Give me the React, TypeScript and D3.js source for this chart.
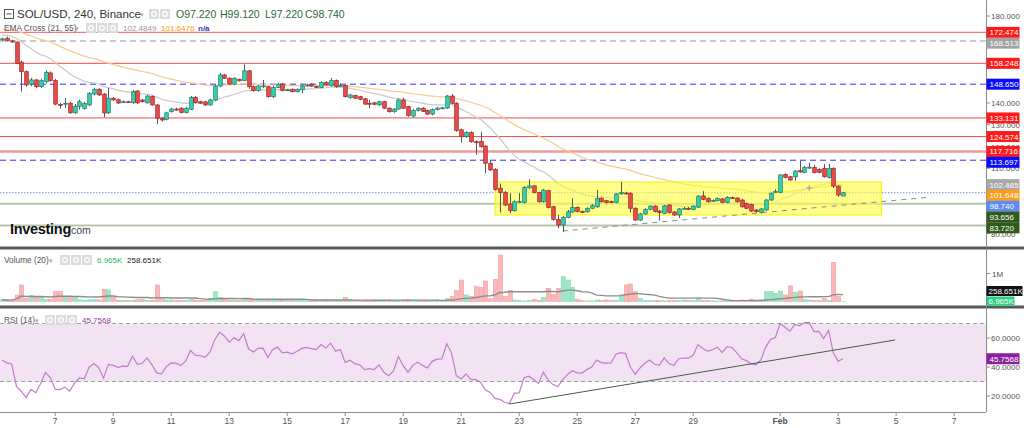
import React from "react";
import * as d3 from "d3";

// ---------- DATA ----------
const FIRST_BAR = "2022-01-05T04:00:00Z";
const BAR_HOURS = 4;
const X_DOMAIN = ["2022-01-05T02:20:00Z", "2022-02-08T02:20:00Z"];

const opens = [169.0,169.8,168.5,168.0,158.8,154.4,148.7,150.6,147.5,149.8,153.8,150.3,139.3,139.7,139.9,135.5,138.5,137.5,139.1,144.1,146.3,144.1,135.5,142.2,141.5,140.5,140.6,140.1,145.5,141.4,140.1,143.0,139.1,133.0,132.5,136.0,137.2,137.6,135.6,137.1,142.6,140.6,140.5,139.1,141.4,147.8,152.9,151.4,148.7,150.9,150.3,154.8,147.5,145.7,147.6,147.5,142.9,147.2,148.7,145.9,146.3,145.2,146.1,148.1,148.7,147.6,147.2,149.5,148.0,150.3,147.8,148.1,142.4,143.4,142.9,141.9,139.9,140.1,139.1,140.6,137.6,136.0,137.2,141.4,138.3,134.0,136.5,137.6,136.5,134.9,137.0,137.6,137.7,143.2,139.9,127.7,124.5,126.5,122.2,122.4,120.2,112.3,109.5,100.8,98.8,93.6,90.5,94.6,94.2,101.0,101.9,98.8,94.6,99.7,92.3,86.5,83.9,87.4,89.9,92.0,90.1,90.0,91.6,92.3,96.2,95.1,94.7,94.3,98.2,98.6,98.5,91.6,86.2,89.0,91.1,92.6,90.3,89.3,93.1,89.9,88.5,91.5,91.6,91.1,92.1,97.3,96.2,95.1,95.1,95.9,94.3,96.5,96.3,95.4,93.8,93.4,90.8,89.6,90.8,95.4,99.1,98.9,107.2,106.1,106.1,108.9,108.1,110.1,110.4,109.5,110.0,105.7,110.0,101.8,97.22];
const highs = [170.0,170.5,169.0,168.3,159.5,155.0,151.5,151.0,151.0,155.0,154.5,151.0,140.0,142.3,140.5,139.5,141.5,140.5,145.0,147.0,146.8,144.5,146.9,142.8,142.0,141.2,141.0,146.0,146.0,141.8,143.7,143.5,139.5,133.5,136.0,137.8,137.8,138.0,138.2,143.2,143.2,141.0,141.0,142.0,148.3,153.8,153.4,151.8,151.8,151.2,157.8,155.2,148.0,148.3,150.6,148.0,148.0,149.3,149.2,146.5,146.7,146.7,148.5,148.8,149.1,148.0,150.0,150.0,151.5,150.8,149.0,148.5,144.2,143.8,143.3,142.3,141.4,140.5,141.0,141.0,138.0,137.6,142.0,142.5,138.7,137.2,138.0,138.1,137.0,137.5,138.2,138.2,143.6,144.1,140.3,128.2,127.0,127.0,122.7,126.8,120.6,113.5,110.0,103.0,99.5,98.5,95.2,98.5,101.8,104.9,102.3,99.2,100.5,100.1,92.7,88.5,88.0,90.8,96.2,92.4,90.6,92.0,93.5,100.0,96.7,95.5,95.1,98.6,103.8,99.2,99.0,92.0,89.5,91.6,93.0,93.0,90.8,93.2,93.6,90.3,91.7,92.2,92.2,93.0,97.6,99.5,96.6,95.7,96.6,96.3,97.1,97.0,96.7,95.8,94.2,93.8,91.2,91.8,95.8,98.9,100.4,107.3,107.6,106.5,109.1,113.5,111.0,112.5,111.6,110.0,111.9,111.9,110.4,102.2,99.12];
const lows = [168.6,168.3,167.8,157.8,145.2,147.5,147.8,146.8,147.0,149.0,149.8,139.0,137.5,137.7,135.0,135.0,137.0,137.0,138.5,143.5,143.2,133.5,135.0,141.0,139.5,140.0,140.0,139.6,139.5,140.2,139.7,138.8,130.3,131.5,132.0,135.6,136.5,135.2,135.2,136.8,139.8,139.5,138.7,138.8,141.0,147.3,151.0,148.3,148.3,149.9,150.0,146.5,145.2,145.2,146.8,142.4,142.3,146.8,145.3,145.5,144.9,144.9,144.5,147.6,147.4,146.9,146.8,147.9,147.5,147.0,147.5,142.5,142.0,141.8,141.3,139.1,137.6,139.0,138.7,137.2,135.6,135.5,136.9,137.2,133.7,133.3,136.1,135.8,134.5,134.3,136.6,137.1,137.3,139.5,126.8,121.8,124.0,121.7,116.2,119.5,107.7,108.7,99.8,89.6,92.6,89.3,90.0,94.2,93.8,100.6,98.4,94.2,94.2,91.5,86.0,82.4,80.8,87.0,89.5,89.7,89.5,89.6,91.2,91.8,94.2,93.8,93.9,93.9,97.8,98.0,89.6,85.8,85.8,88.6,90.7,89.7,85.9,88.9,89.2,88.1,87.2,90.8,91.0,90.7,91.7,95.3,94.2,94.7,94.8,93.9,93.9,95.9,94.2,91.9,91.2,89.9,89.6,89.2,90.4,95.0,98.8,98.5,105.4,104.2,104.2,107.9,107.7,109.7,107.6,107.7,105.7,105.3,100.9,96.9,97.22];
const closes = [169.5,168.6,168.3,158.2,154.4,148.3,150.6,147.5,150.3,154.1,150.3,139.5,139.0,139.9,135.5,138.5,140.6,139.8,144.5,146.3,143.7,135.4,142.2,141.4,140.0,140.6,140.4,145.2,140.1,140.6,143.2,139.1,133.0,132.2,135.5,137.2,137.1,135.6,137.6,142.6,140.2,139.9,139.1,141.4,147.8,152.9,151.4,148.7,151.4,150.2,154.8,147.5,145.7,147.8,147.9,142.9,147.2,148.7,145.7,146.1,145.2,146.3,147.8,148.3,147.8,147.4,149.5,148.3,150.3,147.5,148.1,142.9,143.7,142.2,141.7,139.5,139.8,139.4,140.6,137.6,136.0,137.2,141.4,137.6,134.2,136.5,137.6,136.1,134.9,137.0,137.7,137.8,143.2,139.9,127.3,124.5,126.5,122.2,122.0,119.9,112.3,109.2,100.3,98.8,93.1,90.5,94.6,94.7,101.2,101.9,98.8,94.6,100.0,92.0,86.5,83.9,87.4,90.0,92.0,90.1,90.0,91.6,92.8,96.2,94.6,94.2,94.3,98.2,98.9,98.5,91.6,86.2,89.0,91.1,92.6,90.1,89.6,92.7,89.6,88.5,91.3,91.6,91.5,92.6,97.2,95.7,94.6,95.2,96.2,94.3,96.6,96.3,94.6,92.3,91.6,90.3,90.0,91.3,95.4,98.5,99.3,106.9,105.8,104.6,108.7,108.3,110.4,110.5,108.0,108.1,106.1,110.0,101.8,97.7,98.74];
const volumesK = [60,50,40,232,589,113,208,149,173,78,78,351,351,149,173,149,60,50,60,78,60,435,411,173,50,40,30,40,60,70,40,50,589,149,54,54,40,30,40,78,50,40,40,113,351,149,78,50,50,40,113,78,78,78,78,40,60,50,40,40,30,30,40,30,30,40,40,50,40,50,60,149,60,40,40,50,40,40,30,40,50,40,40,50,60,40,30,30,40,30,30,40,113,173,387,768,232,173,530,494,732,100,793,1660,173,387,54,40,18,30,78,30,149,470,256,470,886,768,506,78,30,20,20,54,30,54,30,40,232,589,625,351,113,40,30,30,30,20,30,30,30,54,30,30,78,30,30,20,20,20,20,20,30,54,30,78,30,54,351,351,292,375,232,554,327,375,78,54,30,30,113,30,1400,173,6.965];

// indicator state carried in from bars before the visible window
const EMA_SEEDS = [171.5, 174.2];
const RSI_SEEDS = [0.65, 0.8];

const levelValues = [172.474, 168.513, 158.248, 148.65, 133.131, 124.574, 117.716, 113.697, 93.656, 83.72];
const levelKinds = ["redLight", "grayDash", "red", "blueDash", "red", "red", "redThick", "blueDash", "green", "green"];
const emaLabels = [102.485, 101.648];

const boxTimes = ["2022-01-22T04:00:00Z", "2022-02-04T12:00:00Z"];
const boxPrices = [103.7, 88.5];
const trendTimes = ["2022-01-24T12:00:00Z", "2022-02-06T05:00:00Z"];
const trendPrices = [81.15, 96.78];
const rsiTrendTimes = ["2022-01-22T16:00:00Z", "2022-02-04T23:00:00Z"];
const rsiTrendValues = [14.5, 58.6];

const xTickDates = ["2022-01-07","2022-01-09","2022-01-11","2022-01-13","2022-01-15","2022-01-17","2022-01-19","2022-01-21","2022-01-23","2022-01-25","2022-01-27","2022-01-29","2022-02-01","2022-02-03","2022-02-05","2022-02-07"];
const priceTicks = [80, 90, 100, 110, 120, 130, 140, 150, 160, 170, 180];
const rsiTicks = [20, 40, 60];

// ---------- LAYOUT ----------
const W = 1024, H = 428;
const AX = 986;
const FONT = "'Liberation Sans', Arial, sans-serif";
const UP = "#35d0ae", UP_S = "#1c7b63", DN = "#ec4b4b", DN_S = "#9c2525";
const AF = 8; // right-axis font size

const kindStyle: Record<string, any> = {
  redLight: { stroke: "#f37a7a", w: 1.3, dash: undefined, bg: "#ff1a1a" },
  red: { stroke: "#ef4a4a", w: 1, dash: undefined, bg: "#ff1a1a" },
  grayDash: { stroke: "#9a9a9a", w: 1, dash: "6,4", bg: "#a3a3a3" },
  blueDash: { stroke: "#2e2eff", w: 1, dash: "6,4", bg: "#0a0aff" },
  redThick: { stroke: "#f49a9a", w: 2.5, dash: undefined, bg: "#ff1a1a" },
  green: { stroke: "#b7c5ae", w: 2, dash: undefined, bg: "#2f5a1c" },
};

function Icons({ x, y }: { x: number; y: number }) {
  return (
    <g>
      {[0, 1, 2].map((k) => (
        <g key={k}>
          <rect x={x + k * 11} y={y} width={10} height={10} fill="#dcdcdc" />
          <circle cx={x + k * 11 + 5} cy={y + 5} r={2.3} fill="none" stroke="#fff" strokeWidth={1.2} />
        </g>
      ))}
    </g>
  );
}

export default function App() {
  const t0 = Date.parse(FIRST_BAR);
  const times = closes.map((_, i) => new Date(t0 + i * BAR_HOURS * 3600e3));
  const x = d3.scaleTime().domain(X_DOMAIN.map((d) => new Date(d))).range([0, AX]);
  const y = d3.scaleLinear().domain([80, 180]).range([233.5, 16]);
  const yVol = d3.scaleLinear().domain([0, 1000]).range([301.5, 273.5]);
  const yRsi = d3.scaleLinear().domain([20, 60]).range([396, 338]);

  const ema = (p: number, seed: number) => {
    const a = 2 / (p + 1);
    let e = seed;
    return closes.map((c) => (e = e + a * (c - e)));
  };
  const ema21 = ema(21, EMA_SEEDS[0]);
  const ema55 = ema(55, EMA_SEEDS[1]);

  let ag = RSI_SEEDS[0], al = RSI_SEEDS[1];
  const rsi = closes.map((c, i) => {
    if (i > 0) {
      const d = c - closes[i - 1];
      ag = (ag * 13 + Math.max(d, 0)) / 14;
      al = (al * 13 + Math.max(-d, 0)) / 14;
    }
    return 100 - 100 / (1 + ag / al);
  });
  const volMA = volumesK.map((_, i) => d3.mean(volumesK.slice(Math.max(0, i - 19), i + 1)) as number);

  const crosses: number[] = [];
  for (let i = 1; i < closes.length; i++) {
    if (Math.sign(ema21[i] - ema55[i]) !== Math.sign(ema21[i - 1] - ema55[i - 1])) crosses.push(i);
  }

  const lineT = (vals: number[], ys: any) =>
    d3.line<number>().x((_, i) => x(times[i])).y((v) => ys(v))(vals) || "";

  // right-axis labels with stacking
  type Lab = { v: number; text: string; bg: string; fg: string; y: number };
  const labs: Lab[] = levelValues.map((v, i) => ({ v, text: v.toFixed(3), bg: kindStyle[levelKinds[i]].bg, fg: "#fff", y: y(v) }));
  labs.push({ v: emaLabels[0], text: emaLabels[0].toFixed(3), bg: "#a8a8a8", fg: "#fff", y: y(emaLabels[0]) });
  labs.push({ v: emaLabels[1], text: emaLabels[1].toFixed(3), bg: "#ff9d1c", fg: "#fff", y: y(emaLabels[1]) });
  const last = closes[closes.length - 1];
  labs.push({ v: last, text: last.toFixed(3), bg: "#5d8bee", fg: "#fff", y: y(last) });
  labs.sort((a, b) => a.y - b.y);
  for (let i = 1; i < labs.length; i++) if (labs[i].y < labs[i - 1].y + 10.8) labs[i].y = labs[i - 1].y + 10.8;

  // price tick labels that are entirely hidden behind label boxes are not drawn
  const tickHidden = (v: number) => {
    const ty = y(v);
    const near = labs.filter((l) => Math.abs(l.y - ty) < 6);
    return near.length >= 2 || labs.some((l) => Math.abs(l.y - ty) < 3);
  };

  const bw = 3.6;
  const xt = (s: string) => x(new Date(s));

  return (
    <svg width={W} height={H} style={{ position: "absolute", left: 0, top: 0, display: "block", background: "#fff" }} fontFamily={FONT}>
      <defs>
        <clipPath id="main"><rect x={0} y={0} width={AX} height={246} /></clipPath>
        <clipPath id="vol"><rect x={0} y={250} width={AX} height={55} /></clipPath>
        <clipPath id="rsi"><rect x={0} y={309} width={AX} height={103} /></clipPath>
      </defs>
      <rect x={0} y={0} width={W} height={H} fill="#fff" />

      {/* ---------- MAIN PANE ---------- */}
      <g clipPath="url(#main)">
        {levelValues.map((v, i) => {
          const s = kindStyle[levelKinds[i]];
          return <line key={i} x1={0} x2={AX} y1={y(v)} y2={y(v)} stroke={s.stroke} strokeWidth={s.w} strokeDasharray={s.dash} />;
        })}
        <line x1={0} x2={AX} y1={y(last)} y2={y(last)} stroke="#6f8ff5" strokeWidth={1} strokeDasharray="1.5,1.5" />
        <path d={lineT(ema55, y)} fill="none" stroke="#f8c98c" strokeWidth={1.2} />
        <path d={lineT(ema21, y)} fill="none" stroke="#c9c9c9" strokeWidth={1.2} />
        <rect x={xt(boxTimes[0])} y={y(boxPrices[0])} width={xt(boxTimes[1]) - xt(boxTimes[0])} height={y(boxPrices[1]) - y(boxPrices[0])}
          fill="#ffff3c" fillOpacity={0.6} stroke="#f2f200" strokeWidth={1} />
        <line x1={xt(trendTimes[0])} y1={y(trendPrices[0])} x2={xt(trendTimes[1])} y2={y(trendPrices[1])} stroke="#8a8a8a" strokeWidth={1} strokeDasharray="5,5" />
        {closes.map((c, i) => {
          const up = c >= opens[i];
          const cx = Math.round(x(times[i])) + 0.5;
          const yo = y(opens[i]), yc = y(c);
          const top = Math.min(yo, yc);
          const h = Math.max(1, Math.abs(yo - yc));
          return (
            <g key={i}>
              <line x1={cx} x2={cx} y1={y(highs[i])} y2={y(lows[i])} stroke="#555" strokeWidth={1} />
              <rect x={cx - bw / 2} y={top} width={bw} height={h} fill={up ? UP : DN} stroke={up ? UP_S : DN_S} strokeWidth={0.7} />
            </g>
          );
        })}
        {crosses.map((i) => {
          const cx = x(times[i]), cy = y((ema21[i] + ema55[i]) / 2);
          return (
            <g key={i} stroke="#a8a8a8" strokeWidth={1.2}>
              <line x1={cx - 3} x2={cx + 3} y1={cy} y2={cy} />
              <line x1={cx} x2={cx} y1={cy - 3} y2={cy + 3} />
            </g>
          );
        })}
      </g>

      {/* header */}
      <g>
        <rect x={4.5} y={9.5} width={9} height={9} fill="#fff" stroke="#555" strokeWidth={1} />
        <line x1={6.5} x2={11.5} y1={14} y2={14} stroke="#555" strokeWidth={1} />
        <text x={17} y={18} fontSize={11.5} fill="#333">SOL/USD, 240, Binance</text>
        <text x={140} y={17} fontSize={7} fill="#aaa">▾</text>
        <rect x={149} y={9} width={10} height={10} fill="#dcdcdc" />
        <rect x={160} y={9} width={10} height={10} fill="#dcdcdc" />
        <circle cx={154} cy={14} r={2.3} fill="none" stroke="#fff" strokeWidth={1.2} />
        <circle cx={165} cy={14} r={2.3} fill="none" stroke="#fff" strokeWidth={1.2} />
        <text x={176} y={18} fontSize={10.5} fill="#2a6b3a">O97.220</text>
        <text x={220} y={18} fontSize={10.5} fill="#2a6b3a">H99.120</text>
        <text x={265} y={18} fontSize={10.5} fill="#2a6b3a">L97.220</text>
        <text x={305} y={18} fontSize={10.5} fill="#2a6b3a">C98.740</text>

        <text x={4} y={31} fontSize={8.3} fill="#555">EMA Cross (21, 55)</text>
        <text x={75} y={31} fontSize={6.5} fill="#aaa">▾</text>
        <Icons x={86} y={23} />
        <text x={123} y={31} fontSize={8} fill="#999">102.4849</text>
        <text x={161} y={31} fontSize={8} fill="#ff9800">101.6476</text>
        <text x={198} y={31} fontSize={8} fill="#2b3fb8" fontWeight="bold">n/a</text>
      </g>

      {/* logo */}
      <text x={10} y={234} fontSize={14.5} fontWeight="bold" fill="#111" letterSpacing={-0.3}>Investing</text>
      <text x={68} y={234} fontSize={10.5} fill="#444">.com</text>

      {/* separators */}
      <rect x={0} y={246.5} width={W} height={3} fill="#595959" />
      <rect x={0} y={305.5} width={W} height={3} fill="#595959" />

      {/* ---------- VOLUME PANE ---------- */}
      <g clipPath="url(#vol)">
        {volumesK.map((v, i) => {
          const up = closes[i] >= opens[i];
          const cx = Math.round(x(times[i])) + 0.5;
          return <rect key={i} x={cx - 2} y={yVol(v)} width={4} height={Math.max(0, yVol(0) - yVol(v))}
            fill={up ? "#9fe6c8" : "#f9b9b9"} stroke={up ? "#7fdcb5" : "#f39a9a"} strokeWidth={0.6} />;
        })}
        <path d={lineT(volMA, yVol)} fill="none" stroke="#8e8e8e" strokeWidth={1.4} />
      </g>
      <text x={4} y={263} fontSize={8.3} fill="#555">Volume (20)</text>
      <text x={49} y={263} fontSize={6.5} fill="#aaa">▾</text>
      <Icons x={60} y={255} />
      <text x={97} y={263} fontSize={8} fill="#27b56c">6.965K</text>
      <text x={127} y={263} fontSize={8} fill="#222">258.651K</text>

      {/* ---------- RSI PANE ---------- */}
      <rect x={0} y={yRsi(70)} width={AX} height={yRsi(30) - yRsi(70)} fill="#f2e3f3" />
      <line x1={0} x2={AX} y1={yRsi(70)} y2={yRsi(70)} stroke="#a0a0a0" strokeDasharray="4,3" />
      <line x1={0} x2={AX} y1={yRsi(30)} y2={yRsi(30)} stroke="#a0a0a0" strokeDasharray="4,3" />
      <g clipPath="url(#rsi)">
        <path d={lineT(rsi, yRsi)} fill="none" stroke="#c27ccc" strokeWidth={1.2} />
        <line x1={xt(rsiTrendTimes[0])} y1={yRsi(rsiTrendValues[0])} x2={xt(rsiTrendTimes[1])} y2={yRsi(rsiTrendValues[1])} stroke="#4a5e45" strokeWidth={1} />
      </g>
      <text x={4} y={323} fontSize={8.3} fill="#555">RSI (14)</text>
      <text x={35} y={323} fontSize={6.5} fill="#aaa">▾</text>
      <Icons x={45} y={315} />
      <text x={82} y={323} fontSize={8} fill="#9c2fa8">45.7568</text>

      {/* ---------- AXES ---------- */}
      <line x1={AX + 0.5} x2={AX + 0.5} y1={0} y2={412} stroke="#8a8a8a" />
      <line x1={0} x2={AX} y1={412.5} y2={412.5} stroke="#8a8a8a" />
      {xTickDates.map((d) => {
        const dt = new Date(d + "T00:00:00Z");
        const px = x(dt);
        const lab = dt.getUTCDate() === 1 ? d3.utcFormat("%b")(dt) : String(dt.getUTCDate());
        return (
          <g key={d}>
            <line x1={px} x2={px} y1={413} y2={416} stroke="#8a8a8a" />
            <text x={px} y={424} fontSize={8.5} fill="#555" textAnchor="middle" fontWeight={lab === "Feb" ? "bold" : "normal"}>{lab}</text>
          </g>
        );
      })}
      {priceTicks.filter((v) => !tickHidden(v)).map((v) => (
        <g key={v}>
          <line x1={AX} x2={AX + 4} y1={y(v)} y2={y(v)} stroke="#8a8a8a" />
          <text x={991} y={y(v) + 3} fontSize={AF} fill="#555">{v.toFixed(3)}</text>
        </g>
      ))}
      {labs.map((l, i) => (
        <g key={i}>
          <rect x={AX + 0.5} y={l.y - 5.5} width={33} height={11} fill={l.bg} />
          <text x={989.5} y={l.y + 3} fontSize={AF} fill={l.fg}>{l.text}</text>
        </g>
      ))}
      <line x1={AX} x2={AX + 4} y1={yVol(1000)} y2={yVol(1000)} stroke="#8a8a8a" />
      <text x={992} y={yVol(1000) + 3} fontSize={AF} fill="#555">1M</text>
      <rect x={AX + 0.5} y={286} width={36} height={10} fill="#111" />
      <text x={988.5} y={294} fontSize={AF} fill="#fff">258.651K</text>
      <rect x={AX + 0.5} y={296.5} width={28} height={9} fill="#2bd17f" />
      <text x={988.5} y={304} fontSize={AF} fill="#fff">6.965K</text>
      {rsiTicks.map((v) => (
        <g key={v}>
          <line x1={AX} x2={AX + 4} y1={yRsi(v)} y2={yRsi(v)} stroke="#8a8a8a" />
          <text x={991} y={yRsi(v) + 3} fontSize={AF} fill="#555">{v.toFixed(4)}</text>
        </g>
      ))}
      <rect x={AX + 0.5} y={yRsi(rsi[rsi.length - 1]) - 5.5} width={33} height={11} fill="#8e1f9c" />
      <text x={989.5} y={yRsi(rsi[rsi.length - 1]) + 3} fontSize={AF} fill="#fff">45.7568</text>
    </svg>
  );
}
